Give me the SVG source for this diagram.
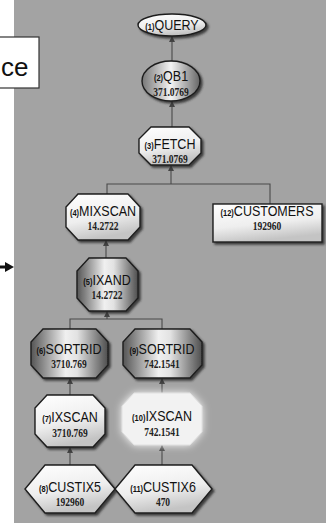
<svg xmlns="http://www.w3.org/2000/svg" width="326" height="523" viewBox="0 0 326 523">
<defs>
<linearGradient id="metal" x1="0" y1="0" x2="1" y2="0">
<stop offset="0" stop-color="#555"/>
<stop offset="0.45" stop-color="#f0f0f0"/>
<stop offset="0.6" stop-color="#e2e2e2"/>
<stop offset="1" stop-color="#4e4e4e"/>
</linearGradient>
<linearGradient id="metal2" x1="0" y1="0" x2="1" y2="0">
<stop offset="0" stop-color="#777"/>
<stop offset="0.5" stop-color="#f4f4f4"/>
<stop offset="1" stop-color="#666"/>
</linearGradient>
<linearGradient id="light" x1="0" y1="0" x2="0.3" y2="1">
<stop offset="0" stop-color="#ffffff"/>
<stop offset="0.6" stop-color="#eeeeee"/>
<stop offset="1" stop-color="#c4c4c4"/>
</linearGradient>
<filter id="sh" x="-20%" y="-20%" width="150%" height="150%">
<feDropShadow dx="2" dy="2" stdDeviation="0.8" flood-color="#2a2a2a" flood-opacity="0.85"/>
</filter>
<filter id="glow" x="-30%" y="-30%" width="160%" height="160%">
<feGaussianBlur stdDeviation="4"/>
</filter>
<marker id="ah" viewBox="0 0 6 6" refX="6" refY="3" markerWidth="6" markerHeight="6" orient="auto" markerUnits="userSpaceOnUse">
<path d="M0,0 L6,3 L0,6 z" fill="#444"/>
</marker>
</defs>
<style>
.node{stroke:#1e1e1e;stroke-width:1.4;filter:url(#sh)}
.lb{font-family:"Liberation Sans",Arial,sans-serif;font-size:12.5px;fill:#111;text-anchor:middle}
.p{font-size:7.5px;font-weight:bold}
.nm{font-family:"Liberation Serif","Times New Roman",serif;font-size:9.5px;font-weight:bold;fill:#222;text-anchor:middle}
.cn{fill:none;stroke:#4a4a4a;stroke-width:1.1}
</style>
<rect x="0" y="0" width="326" height="523" fill="#ffffff"/>
<rect x="14" y="0" width="312" height="523" fill="#a3a3a3"/>
<g id="ref-box">
<rect x="-5" y="37" width="44" height="51" fill="#ffffff" stroke="#333" stroke-width="1.2"/>
<text x="1" y="76" font-family="Liberation Sans,Arial,sans-serif" font-size="26" fill="#111">ce</text>
</g>
<g id="side-arrow">
<line x1="0" y1="267" x2="8" y2="267" stroke="#111" stroke-width="3"/>
<path d="M5,262 L14,267 L5,272 z" fill="#111"/>
</g>
<g id="connectors">
<line class="cn" x1="172" y1="61" x2="172" y2="36" marker-end="url(#ah)"/>
<line class="cn" x1="172" y1="127" x2="172" y2="101" marker-end="url(#ah)"/>
<polyline class="cn" points="107,194 107,184 270,184 270,204"/>
<line class="cn" x1="171" y1="184" x2="171" y2="165" marker-end="url(#ah)"/>
<line class="cn" x1="106" y1="258" x2="106" y2="240" marker-end="url(#ah)"/>
<polyline class="cn" points="70,329 70,319 162,319 162,329"/>
<line class="cn" x1="107" y1="319" x2="107" y2="311" marker-end="url(#ah)"/>
<line class="cn" x1="70" y1="395" x2="70" y2="378" marker-end="url(#ah)"/>
<line class="cn" x1="162" y1="393" x2="162" y2="378" marker-end="url(#ah)"/>
<line class="cn" x1="70" y1="465" x2="70" y2="447" marker-end="url(#ah)"/>
<line class="cn" x1="162" y1="465" x2="162" y2="445" marker-end="url(#ah)"/>
</g>
<g id="n1">
<ellipse class="node" cx="172" cy="25" rx="34" ry="11" fill="url(#light)"/>
<text class="lb" transform="translate(172,30) scale(1,1.15)"><tspan class="p">(1)</tspan>QUERY</text>
</g>
<g id="n2">
<ellipse class="node" cx="171" cy="81" rx="29" ry="20" fill="url(#metal2)"/>
<text class="lb" transform="translate(171,81) scale(1,1.15)"><tspan class="p">(2)</tspan>QB1</text>
<text class="nm" transform="translate(171,96) scale(1,1.25)">371.0769</text>
</g>
<g id="n3">
<polygon class="node" points="151,127 189,127 201,139 201,153 189,165 151,165 139,153 139,139" fill="url(#light)"/>
<text class="lb" transform="translate(170,149) scale(1,1.15)"><tspan class="p">(3)</tspan>FETCH</text>
<text class="nm" transform="translate(170,163) scale(1,1.25)">371.0769</text>
</g>
<g id="n4">
<polygon class="node" points="78,194 128,194 140,207 140,227 128,240 78,240 66,227 66,207" fill="url(#light)"/>
<text class="lb" transform="translate(103,216) scale(1,1.15)"><tspan class="p">(4)</tspan>MIXSCAN</text>
<text class="nm" transform="translate(103,230) scale(1,1.25)">14.2722</text>
</g>
<g id="n12">
<rect class="node" x="213" y="204" width="109" height="38" fill="url(#light)"/>
<text class="lb" transform="translate(267,216) scale(1,1.15)"><tspan class="p">(12)</tspan>CUSTOMERS</text>
<text class="nm" transform="translate(267,230) scale(1,1.25)">192960</text>
</g>
<g id="n5">
<polygon class="node" points="89,258 126,258 138,271 138,298 126,311 89,311 77,298 77,271" fill="url(#metal)"/>
<text class="lb" transform="translate(107,285) scale(1,1.15)"><tspan class="p">(5)</tspan>IXAND</text>
<text class="nm" transform="translate(107,299) scale(1,1.25)">14.2722</text>
</g>
<g id="n6">
<polygon class="node" points="43,329 96,329 108,342 108,365 96,378 43,378 31,365 31,342" fill="url(#metal)"/>
<text class="lb" transform="translate(69,354) scale(1,1.15)"><tspan class="p">(6)</tspan>SORTRID</text>
<text class="nm" transform="translate(69,368) scale(1,1.25)">3710.769</text>
</g>
<g id="n9">
<polygon class="node" points="135,329 190,329 202,342 202,365 190,378 135,378 123,365 123,342" fill="url(#metal)"/>
<text class="lb" transform="translate(162,354) scale(1,1.15)"><tspan class="p">(9)</tspan>SORTRID</text>
<text class="nm" transform="translate(162,368) scale(1,1.25)">742.1541</text>
</g>
<g id="n7">
<polygon class="node" points="47,395 93,395 105,408 105,434 93,447 47,447 35,434 35,408" fill="url(#light)"/>
<text class="lb" transform="translate(70,422) scale(1,1.15)"><tspan class="p">(7)</tspan>IXSCAN</text>
<text class="nm" transform="translate(70,437) scale(1,1.25)">3710.769</text>
</g>
<g id="n10">
<polygon points="134,393 190,393 202,406 202,432 190,445 134,445 122,432 122,406" fill="#ffffff" filter="url(#glow)"/>
<polygon points="134,393 190,393 202,406 202,432 190,445 134,445 122,432 122,406" fill="#f2f2f2" stroke="#e0e0e0" stroke-width="1"/>
<text class="lb" transform="translate(162,421) scale(1,1.15)"><tspan class="p">(10)</tspan>IXSCAN</text>
<text class="nm" transform="translate(162,436) scale(1,1.25)">742.1541</text>
</g>
<g id="n8">
<polygon class="node" points="25,489 45,465 95,465 115,489 95,513 45,513" fill="url(#light)"/>
<text class="lb" transform="translate(70,492) scale(1,1.15)"><tspan class="p">(8)</tspan>CUSTIX5</text>
<text class="nm" transform="translate(70,506) scale(1,1.25)">192960</text>
</g>
<g id="n11">
<polygon class="node" points="115,489 135,465 192,465 212,489 192,513 135,513" fill="url(#light)"/>
<text class="lb" transform="translate(163,492) scale(1,1.15)"><tspan class="p">(11)</tspan>CUSTIX6</text>
<text class="nm" transform="translate(163,506) scale(1,1.25)">470</text>
</g>
</svg>
